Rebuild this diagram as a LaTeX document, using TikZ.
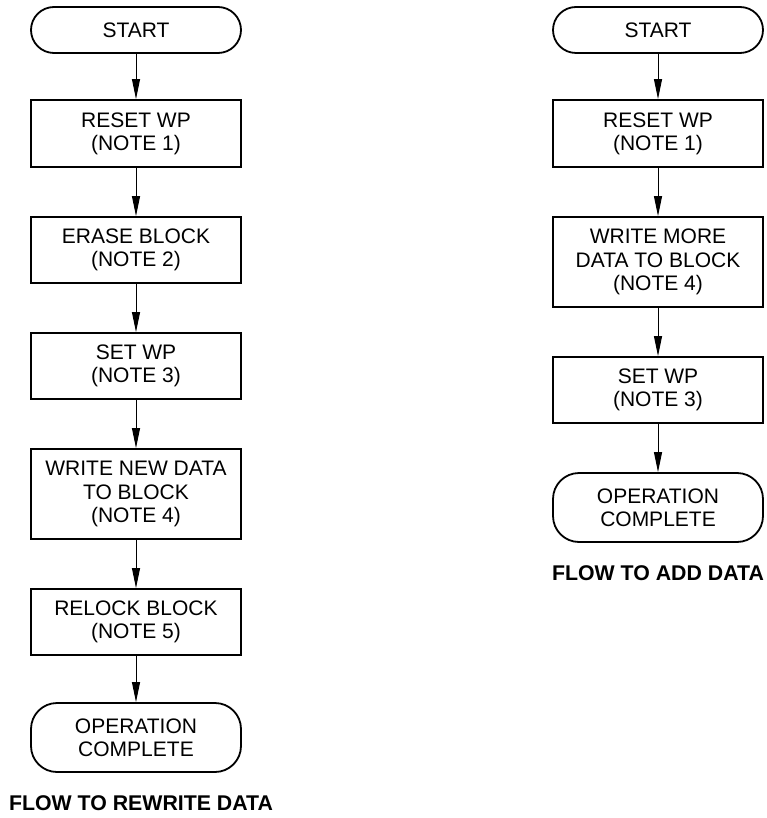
\documentclass[tikz,border=0pt]{standalone}
\usepackage{fontspec}
\setmainfont{Liberation Sans}
\usetikzlibrary{arrows.meta}
\begin{document}
\begin{tikzpicture}[x=1pt,y=1pt,
  box/.style={draw, line width=1.8pt, minimum width=210pt, align=center, inner sep=0pt,
    font=\fontsize{21}{23.3}\selectfont},
  term/.style={box, rounded corners=23pt},
  flow/.style={-{Triangle[length=20pt,width=8pt]}, line width=1pt},
  caption/.style={font=\fontsize{21.3}{24}\selectfont\bfseries}]
\useasboundingbox (0,0) rectangle (767,-818);
% left column
\node[term, minimum height=46pt] (l1) at (136,-30) {START};
\node[box, minimum height=67pt] (l2) at (136,-133.5) {RESET WP\\(NOTE 1)};
\node[box, minimum height=66pt] (l3) at (136,-250) {ERASE BLOCK\\(NOTE 2)};
\node[box, minimum height=66pt] (l4) at (136,-366) {SET WP\\(NOTE 3)};
\node[box, minimum height=90pt] (l5) at (136,-494) {WRITE NEW DATA\\TO BLOCK\\(NOTE 4)};
\node[box, minimum height=66pt] (l6) at (136,-622) {RELOCK BLOCK\\(NOTE 5)};
\node[term, rounded corners=26pt, minimum height=69pt] (l7) at (136,-737.5) {OPERATION\\COMPLETE};
\node[caption] (lc) at (141,-803) {FLOW TO REWRITE DATA};
\foreach \a/\b in {l1/l2,l2/l3,l3/l4,l4/l5,l5/l6,l6/l7}
  \draw[flow] (\a.south) -- (\b.north);
% right column
\node[term, minimum height=46pt] (r1) at (658,-30) {START};
\node[box, minimum height=67pt] (r2) at (658,-133.5) {RESET WP\\(NOTE 1)};
\node[box, minimum height=90pt] (r3) at (658,-262) {WRITE MORE\\DATA TO BLOCK\\(NOTE 4)};
\node[box, minimum height=66pt] (r4) at (658,-390) {SET WP\\(NOTE 3)};
\node[term, rounded corners=26pt, minimum height=69pt] (r5) at (658,-507.5) {OPERATION\\COMPLETE};
\node[caption] (rc) at (658,-573) {FLOW TO ADD DATA};
\foreach \a/\b in {r1/r2,r2/r3,r3/r4,r4/r5}
  \draw[flow] (\a.south) -- (\b.north);
\end{tikzpicture}
\end{document}
